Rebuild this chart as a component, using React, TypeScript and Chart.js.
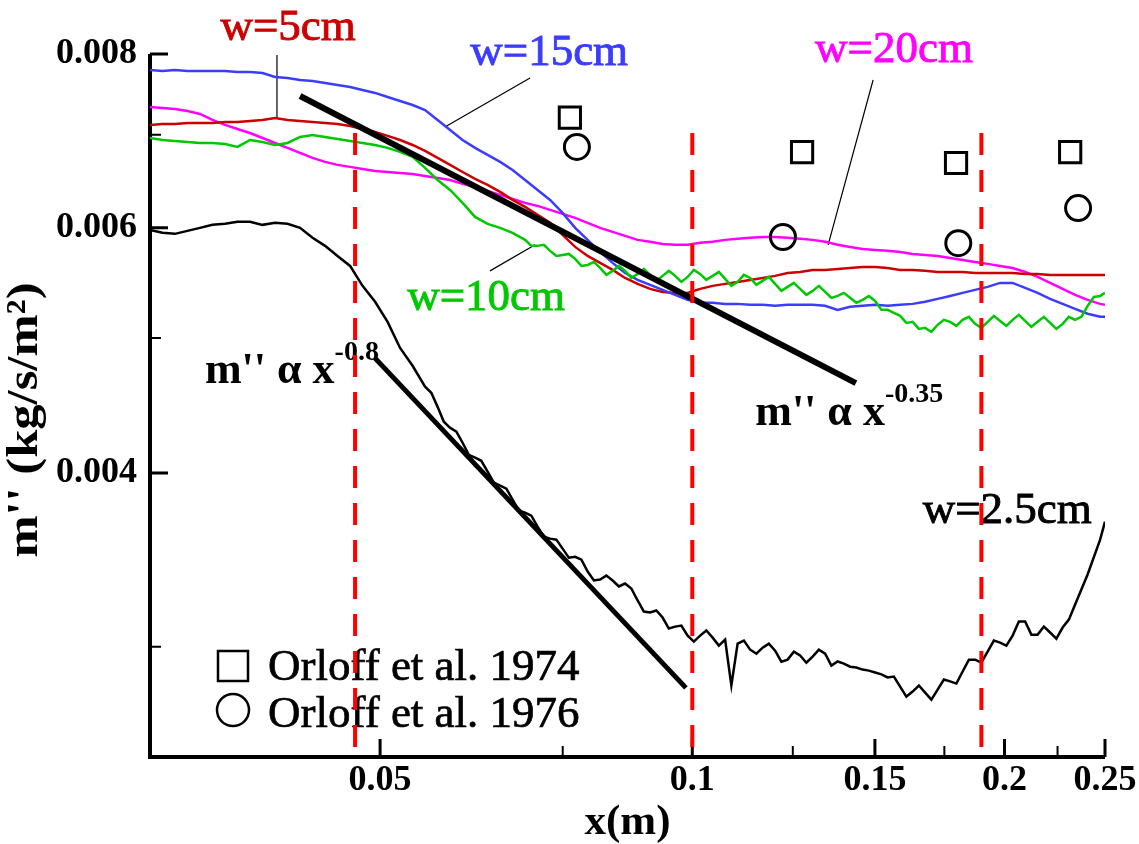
import React, { useEffect, useRef } from "react";
import { Chart, registerables } from "chart.js";

Chart.register(...registerables);

const FONT = '"Liberation Serif", "Times New Roman", serif';

// shared x sampling of the measured curves (m)
const xGrid = [
  0.03, 0.03084, 0.03171, 0.0326, 0.03352, 0.03446, 0.03544, 0.03643, 0.03746, 0.03851,
  0.0396, 0.04071, 0.04186, 0.04304, 0.04425, 0.04549, 0.04678, 0.04809, 0.04945, 0.05084,
  0.05227, 0.05374, 0.05525, 0.05681, 0.05841, 0.06005, 0.06174, 0.06348, 0.06527, 0.0671,
  0.06899, 0.07093, 0.07293, 0.07498, 0.0771, 0.07927, 0.08149, 0.08379, 0.08614, 0.08857,
  0.09106, 0.09362, 0.09626, 0.09897, 0.10175, 0.10462, 0.10756, 0.11059, 0.1137, 0.1169,
  0.12019, 0.12357, 0.12705, 0.13063, 0.1343, 0.13808, 0.14196, 0.14596, 0.15007, 0.15429,
  0.15863, 0.1631, 0.16769, 0.17241, 0.17726, 0.18225, 0.18737, 0.19265, 0.19807, 0.20364,
  0.20937, 0.21527, 0.22132, 0.22755, 0.23396, 0.24054, 0.24731, 0.25,
];

// extra in-between samples where the measured signals are noisy (m)
const xMid = [
  0.05602, 0.0576, 0.05923, 0.06089, 0.0626, 0.06437, 0.06618, 0.06804, 0.06995, 0.07192,
  0.07395, 0.07603, 0.07818, 0.08038, 0.08263, 0.08496, 0.08734, 0.08981, 0.09233, 0.09493,
  0.0976, 0.10035, 0.10317, 0.10608, 0.10906, 0.11214, 0.11529, 0.11853, 0.12187, 0.1253,
  0.12882, 0.13245, 0.13618, 0.14001, 0.14394, 0.148, 0.15217, 0.15645, 0.16085, 0.16538,
  0.17003, 0.17482, 0.17974, 0.1848, 0.18999, 0.19534, 0.20084, 0.20649, 0.2123, 0.21828,
  0.22441, 0.23073, 0.23723, 0.2439,
];

// w = 2.5 cm (black)
const w25 = [
  0.00598, 0.005951, 0.005941, 0.00597, 0.006, 0.00603, 0.00604, 0.00606, 0.00606, 0.00603,
  0.00605, 0.00604, 0.006, 0.005902, 0.005824, 0.005728, 0.005634, 0.005451, 0.005309, 0.005136,
  0.004919, 0.004776, 0.004613, 0.004462, 0.00431, 0.004205, 0.004102, 0.004008, 0.003917, 0.003827,
  0.003745, 0.00366, 0.003588, 0.003529, 0.003482, 0.003398, 0.003353, 0.003348, 0.003331, 0.003239,
  0.003175, 0.003149, 0.003102, 0.003056, 0.003056, 0.003046, 0.003036, 0.003016, 0.002986, 0.002996,
  0.002981, 0.002937, 0.002957, 0.002952, 0.002966, 0.002928, 0.002903, 0.002889, 0.002875, 0.002852,
  0.002809, 0.002786, 0.002781, 0.002795, 0.002833, 0.00288, 0.002937, 0.002976, 0.003021, 0.003056,
  0.003128, 0.003061, 0.003072, 0.003097, 0.003217, 0.003381, 0.003582, 0.00369,
];
// w = 2.5 cm, in-between samples (xMid[0..51])
const w25Mid = [
  0.004567, 0.004354, 0.004282, 0.004122, 0.004081, 0.003936, 0.003897, 0.003758, 0.003727, 0.0036,
  0.003582, 0.003477, 0.003465, 0.003348, 0.003375, 0.003315, 0.003304, 0.00318, 0.003186, 0.003092,
  0.003107, 0.003026, 0.003082, 0.003006, 0.002814, 0.003031, 0.002966, 0.003016, 0.002927, 0.002976,
  0.002922, 0.002986, 0.002908, 0.002918, 0.002899, 0.002884, 0.002866, 0.002856, 0.002763, 0.002814,
  0.002749, 0.002842, 0.002823, 0.002937, 0.002922, 0.003031, 0.003006, 0.003128, 0.003061, 0.003102,
  0.003041, 0.003138,
];

// w = 5 cm (red)
const w5 = [
  0.007114, 0.007125, 0.007125, 0.007137, 0.007137, 0.007137, 0.007149, 0.007149, 0.007161, 0.007173,
  0.007197, 0.007173, 0.007161, 0.007149, 0.007137, 0.007125, 0.007102, 0.007067, 0.007032, 0.006986,
  0.006939, 0.006882, 0.006815, 0.006737, 0.006659, 0.006581, 0.006506, 0.006442, 0.006368, 0.006284,
  0.006212, 0.006131, 0.00605, 0.005931, 0.005814, 0.005728, 0.005662, 0.005597, 0.005523, 0.005469,
  0.005424, 0.005397, 0.005388, 0.005388, 0.005424, 0.005451, 0.005469, 0.005487, 0.005505, 0.005523,
  0.005542, 0.005569, 0.005578, 0.005597, 0.005597, 0.005606, 0.005615, 0.005625, 0.005625, 0.005615,
  0.005597, 0.005597, 0.005588, 0.005578, 0.005578, 0.005578, 0.005569, 0.005569, 0.005569, 0.005569,
  0.00556, 0.00556, 0.005551, 0.005551, 0.005551, 0.005551, 0.005551, 0.005551,
];

// w = 10 cm (green)
const w10 = [
  0.006962, 0.006939, 0.006928, 0.006916, 0.006905, 0.006905, 0.006894, 0.00686, 0.006939, 0.006916,
  0.006882, 0.006905, 0.006974, 0.006997, 0.006974, 0.006951, 0.006928, 0.006905, 0.006882, 0.006849,
  0.006804, 0.006748, 0.006626, 0.006495, 0.006389, 0.006253, 0.00611, 0.00604, 0.006, 0.005951,
  0.005882, 0.005824, 0.005776, 0.005737, 0.0057, 0.005643, 0.005615, 0.005588, 0.005588, 0.00556,
  0.005551, 0.005542, 0.005542, 0.005532, 0.00556, 0.005542, 0.005514, 0.005487, 0.005523, 0.005496,
  0.005469, 0.005442, 0.005424, 0.005406, 0.005397, 0.005361, 0.005344, 0.005326, 0.005317, 0.005239,
  0.005187, 0.005136, 0.005085, 0.005111, 0.005136, 0.005153, 0.005119, 0.005136, 0.005144, 0.005153,
  0.005144, 0.005136, 0.005127, 0.005119, 0.005153, 0.005274, 0.005361, 0.005388,
];
// w = 10 cm, in-between samples (xMid[8..53])
const w10Mid = [
  0.005824, 0.005834, 0.005728, 0.005747, 0.005634, 0.005671, 0.005551, 0.005634, 0.005523, 0.005606,
  0.005496, 0.005588, 0.005487, 0.005597, 0.005505, 0.005578, 0.005451, 0.005551, 0.00546, 0.005532,
  0.005406, 0.005478, 0.00537, 0.005451, 0.005344, 0.005388, 0.0053, 0.005361, 0.005239, 0.005213,
  0.005127, 0.005076, 0.005051, 0.005153, 0.005102, 0.005179, 0.005085, 0.005187, 0.005102, 0.005196,
  0.005094, 0.005179, 0.005076, 0.005179, 0.005179, 0.005352,
];

// w = 15 cm (blue)
const w15 = [
  0.007791, 0.007778, 0.007791, 0.007778, 0.007778, 0.007778, 0.007778, 0.007765, 0.007765, 0.007752,
  0.007701, 0.007688, 0.007663, 0.00765, 0.007626, 0.007601, 0.007576, 0.007538, 0.007501, 0.007451,
  0.007402, 0.007353, 0.007292, 0.007173, 0.007055, 0.006939, 0.006849, 0.00677, 0.006692, 0.006603,
  0.006495, 0.006389, 0.006284, 0.006151, 0.006, 0.005882, 0.005766, 0.005662, 0.005569, 0.005505,
  0.00546, 0.005415, 0.00537, 0.005326, 0.0053, 0.0053, 0.005291, 0.005291, 0.005283, 0.005283,
  0.005274, 0.005283, 0.005283, 0.005283, 0.005274, 0.005239, 0.005265, 0.005274, 0.005283, 0.005274,
  0.005283, 0.005291, 0.005309, 0.005335, 0.005361, 0.005388, 0.005415, 0.005442, 0.005478, 0.005478,
  0.005433, 0.005388, 0.005335, 0.005291, 0.005248, 0.005205, 0.005179, 0.005179,
];

// w = 20 cm (magenta)
const w20 = [
  0.007329, 0.007317, 0.007304, 0.00728, 0.007245, 0.007173, 0.007114, 0.007067, 0.00702, 0.006962,
  0.006905, 0.006849, 0.006792, 0.006737, 0.006692, 0.006659, 0.006637, 0.006614, 0.006592, 0.006581,
  0.006571, 0.00656, 0.006538, 0.006517, 0.006495, 0.006453, 0.006421, 0.006379, 0.006337, 0.006294,
  0.006253, 0.006222, 0.006181, 0.006141, 0.0061, 0.00605, 0.006, 0.00596, 0.005921, 0.005882,
  0.005863, 0.005843, 0.005834, 0.005834, 0.005853, 0.005863, 0.005882, 0.005892, 0.005902, 0.005911,
  0.005911, 0.005902, 0.005892, 0.005882, 0.005863, 0.005834, 0.005814, 0.005795, 0.005785, 0.005776,
  0.005766, 0.005747, 0.005737, 0.005728, 0.005709, 0.00569, 0.005671, 0.005653, 0.005634, 0.005615,
  0.005578, 0.005532, 0.005478, 0.005424, 0.00537, 0.005326, 0.005291, 0.005283,
];

// Orloff et al. data
const orloff1974X = [0.0762, 0.1276, 0.1796, 0.2314];
const orloff1974Y = [0.0072, 0.0068, 0.00668, 0.0068];
const orloff1976X = [0.0774, 0.1223, 0.1805, 0.2355];
const orloff1976Y = [0.00686, 0.00591, 0.00585, 0.0062];

// power-law guide lines
const fit035X = [0.04186, 0.1438];
const fit035Y = [0.007463, 0.004641];
const fit08X = [0.04944, 0.0986];
const fit08Y = [0.004837, 0.002803];

// red dashed verticals
const dashX = [0.0473, 0.1, 0.19];
const dashY = [0.00702, 0.0025];

// axes
const xTickMajor = [0.05, 0.1, 0.15, 0.2, 0.25];
const xTickLabels = ["0.05", "0.1", "0.15", "0.2", "0.25"];
const xTickMinor = [0.075, 0.125, 0.175, 0.225];
const yTickMajor = [0.004, 0.006, 0.008];
const yTickLabels = ["0.004", "0.006", "0.008"];
const yTickMinor = [0.003, 0.005, 0.007];
const yTitle = "m'' (kg/s/m\u00b2)";
const xTitle = "x(m)";

// curve labels (text, data anchor = centre x / baseline y)
const curveLabels = ["w=5cm", "w=15cm", "w=20cm", "w=10cm", "w=2.5cm"];
const curveLabelColors = ["#cc0000", "#3c3cff", "#ff00ff", "#00c800", "#000000"];
const curveLabelX = [0.04077, 0.07278, 0.1565, 0.06327, 0.2012];
const curveLabelY = [0.008187, 0.007856, 0.007895, 0.005239, 0.003682];

// leader lines
const leaderX1 = [0.03977, 0.06975, 0.07054, 0.1494];
const leaderY1 = [0.007987, 0.007688, 0.005834, 0.007663];
const leaderX2 = [0.03977, 0.05774, 0.06382, 0.1352];
const leaderY2 = [0.007197, 0.00709, 0.005588, 0.005834];

// power-law labels (left x / baseline y)
const powerExponents = ["-0.8", "-0.35"];
const powerLabelX = [0.03389, 0.115];
const powerLabelY = [0.004641, 0.00433];

const legendLabels = ["Orloff et al. 1974", "Orloff et al. 1976"];

const pts = (xs: number[], ys: number[]) => xs.map((x, i) => ({ x, y: ys[i] }));
const merged = (a: { x: number; y: number }[], b: { x: number; y: number }[]) =>
  [...a, ...b].sort((p, q) => p.x - q.x);

const decorPlugin = {
  id: "decor",
  beforeDatasetsDraw(chart: any) {
    const { ctx, chartArea } = chart;
    const xs = chart.scales.x;
    const ys = chart.scales.y;
    const px = (v: number) => xs.getPixelForValue(v);
    const py = (v: number) => ys.getPixelForValue(v);
    ctx.save();
    ctx.strokeStyle = "#000";
    ctx.lineCap = "butt";
    // axis lines
    ctx.lineWidth = 4;
    ctx.beginPath();
    ctx.moveTo(chartArea.left, chartArea.top);
    ctx.lineTo(chartArea.left, chartArea.bottom);
    ctx.lineTo(chartArea.right, chartArea.bottom);
    ctx.stroke();
    // inward ticks
    const tick = (len: number, w: number, xv: number[], yv: number[]) => {
      ctx.lineWidth = w;
      ctx.beginPath();
      xv.forEach((v) => {
        const x = px(v);
        ctx.moveTo(x, chartArea.bottom);
        ctx.lineTo(x, chartArea.bottom - len);
      });
      yv.forEach((v) => {
        const y = py(v);
        ctx.moveTo(chartArea.left, y);
        ctx.lineTo(chartArea.left + len, y);
      });
      ctx.stroke();
    };
    tick(18, 3, xTickMajor, yTickMajor);
    tick(11, 2, xTickMinor, yTickMinor);

    // y axis title (slightly stretched along the text like the source figure)
    ctx.save();
    ctx.translate(chartArea.left - 124, chartArea.top + 366);
    ctx.rotate(-Math.PI / 2);
    ctx.scale(1.15, 1);
    ctx.font = `bold 44px ${FONT}`;
    ctx.fillStyle = "#000";
    ctx.textAlign = "center";
    ctx.textBaseline = "middle";
    ctx.fillText(yTitle, 0, 0);
    ctx.restore();

    // leader lines
    ctx.lineWidth = 1.2;
    ctx.beginPath();
    leaderX1.forEach((_, i) => {
      ctx.moveTo(px(leaderX1[i]), py(leaderY1[i]));
      ctx.lineTo(px(leaderX2[i]), py(leaderY2[i]));
    });
    ctx.stroke();

    // curve labels
    ctx.font = `45px ${FONT}`;
    ctx.textAlign = "center";
    ctx.textBaseline = "alphabetic";
    ctx.lineWidth = 0.9;
    curveLabels.forEach((t, i) => {
      ctx.fillStyle = curveLabelColors[i];
      ctx.strokeStyle = curveLabelColors[i];
      const x = px(curveLabelX[i]);
      const y = py(curveLabelY[i]);
      ctx.fillText(t, x, y);
      ctx.strokeText(t, x, y);
    });

    // power-law labels
    ctx.fillStyle = "#000";
    ctx.strokeStyle = "#000";
    ctx.textAlign = "left";
    powerExponents.forEach((e, i) => {
      const x = px(powerLabelX[i]);
      const y = py(powerLabelY[i]);
      ctx.font = `bold 44px ${FONT}`;
      const main = "m'' \u03b1 x";
      ctx.fillText(main, x, y);
      const w = ctx.measureText(main).width;
      ctx.font = `bold 28px ${FONT}`;
      ctx.fillText(e, x + w, y - 23);
    });

    // legend
    const lx = chartArea.left + 83;
    ctx.lineWidth = 2.5;
    ctx.strokeRect(lx - 15, chartArea.bottom - 106, 30, 30);
    ctx.beginPath();
    ctx.arc(lx, chartArea.bottom - 47, 16, 0, Math.PI * 2);
    ctx.stroke();
    ctx.font = `45px ${FONT}`;
    ctx.lineWidth = 0.7;
    ctx.fillText(legendLabels[0], chartArea.left + 118, chartArea.bottom - 77);
    ctx.strokeText(legendLabels[0], chartArea.left + 118, chartArea.bottom - 77);
    ctx.fillText(legendLabels[1], chartArea.left + 118, chartArea.bottom - 30);
    ctx.strokeText(legendLabels[1], chartArea.left + 118, chartArea.bottom - 30);
    ctx.restore();
  },
};

export default function App() {
  const ref = useRef<HTMLCanvasElement | null>(null);
  useEffect(() => {
    if (!ref.current) return;
    const line = (data: any[], color: string, width: number) => ({
      data,
      borderColor: color,
      backgroundColor: color,
      borderWidth: width,
      pointRadius: 0,
      tension: 0,
      fill: false,
    });
    const blackData = merged(pts(xGrid, w25), pts(xMid.slice(0, 52), w25Mid));
    const greenData = merged(pts(xGrid, w10), pts(xMid.slice(8, 54), w10Mid));
    const datasets: any[] = [
      ...dashX.map((x) => ({
        ...line([{ x, y: dashY[0] }, { x, y: dashY[1] }], "#ff0000", 4),
        borderDash: [22, 15],
      })),
      {
        data: pts(orloff1974X, orloff1974Y),
        showLine: false,
        pointStyle: "rect",
        pointRadius: 15,
        pointBorderWidth: 3,
        pointBorderColor: "#000",
        pointBackgroundColor: "rgba(0,0,0,0)",
      },
      {
        data: pts(orloff1976X, orloff1976Y),
        showLine: false,
        pointStyle: "circle",
        pointRadius: 12.5,
        pointBorderWidth: 3,
        pointBorderColor: "#000",
        pointBackgroundColor: "rgba(0,0,0,0)",
      },
      line(pts(fit035X, fit035Y), "#000", 6),
      line(pts(fit08X, fit08Y), "#000", 5),
      line(blackData, "#000", 2.5),
      line(greenData, "#00c800", 2.5),
      line(pts(xGrid, w15), "#3c3cff", 2.5),
      line(pts(xGrid, w5), "#cc0000", 2.5),
      line(pts(xGrid, w20), "#ff00ff", 2.5),
    ];
    const chart = new Chart(ref.current, {
      type: "line",
      data: { datasets },
      options: {
        animation: false,
        responsive: false,
        layout: { padding: { left: 0, top: 54, right: 34, bottom: 0 } },
        plugins: {
          legend: { display: false },
          tooltip: { enabled: false },
        },
        scales: {
          x: {
            type: "logarithmic",
            min: 0.03,
            max: 0.25,
            afterFit: (s: any) => {
              s.height = 87;
            },
            afterBuildTicks: (s: any) => {
              s.ticks = xTickMajor.map((v) => ({ value: v }));
            },
            grid: { display: false, drawTicks: false },
            border: { display: false },
            ticks: {
              autoSkip: false,
              maxRotation: 0,
              minRotation: 0,
              padding: 2,
              color: "#000",
              font: { family: FONT, size: 36, weight: "bold" },
              callback: (_v: any, i: number) => xTickLabels[i],
            },
            title: {
              display: true,
              text: xTitle,
              color: "#000",
              font: { family: FONT, size: 43, weight: "bold", lineHeight: 1 },
              padding: { top: 0, bottom: 0 },
            },
          },
          y: {
            type: "logarithmic",
            min: 0.0025,
            max: 0.008,
            afterFit: (s: any) => {
              s.width = 150;
            },
            afterBuildTicks: (s: any) => {
              s.ticks = yTickMajor.map((v) => ({ value: v }));
            },
            grid: { display: false, drawTicks: false },
            border: { display: false },
            ticks: {
              autoSkip: false,
              padding: 13,
              color: "#000",
              font: { family: FONT, size: 36, weight: "bold" },
              callback: (_v: any, i: number) => yTickLabels[i],
            },
            title: { display: false },
          },
        },
      } as any,
      plugins: [decorPlugin],
    });
    return () => chart.destroy();
  }, []);
  return (
    <div style={{ position: "fixed", left: 0, top: 0, width: 1139, height: 844, background: "#fff" }}>
      <canvas ref={ref} width={1139} height={844} style={{ display: "block" }} />
    </div>
  );
}
